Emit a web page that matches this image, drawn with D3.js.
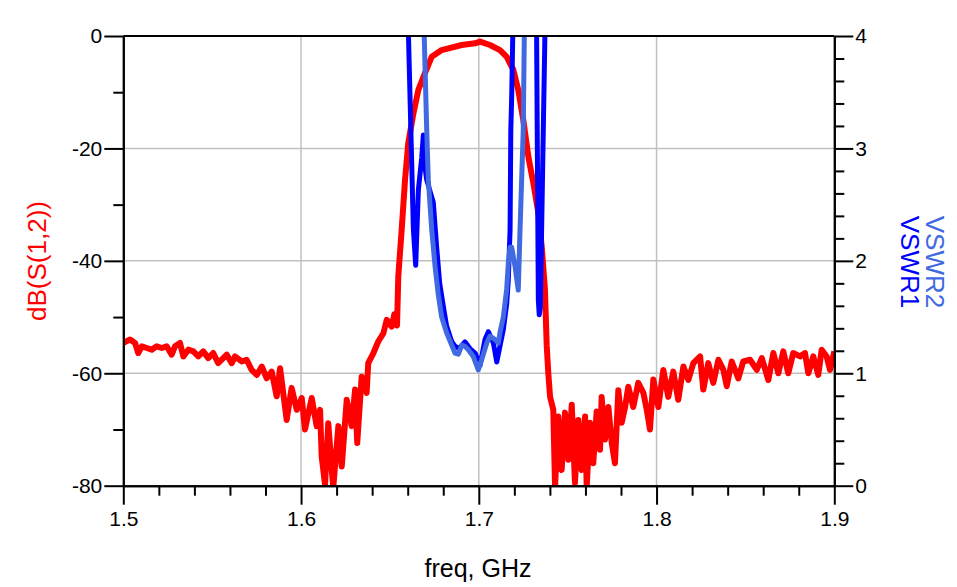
<!DOCTYPE html>
<html>
<head>
<meta charset="utf-8">
<script src="https://cdn.jsdelivr.net/npm/d3@7"></script>
<style>
    body { margin: 0; background: #fff; }
    svg { display: block; font-family: "Liberation Sans", Arial, sans-serif; }
    .axis path, .axis line { stroke: #000; stroke-width: 2; }
    .axis text { font-size: 21px; fill: #000; }
    .grid line { stroke: #c0c0c0; stroke-width: 1.5; }
</style>
</head>
<body>
<svg width="957" height="587"></svg>
<script>
// S(1,2) in dB
const s12Freq = [
    1.5000, 1.5038, 1.5066, 1.5084, 1.5104, 1.5132, 1.5160, 1.5188, 1.5216, 1.5244,
    1.5272, 1.5291, 1.5319, 1.5338, 1.5366, 1.5394, 1.5422, 1.5450, 1.5478, 1.5506,
    1.5534, 1.5582, 1.5610, 1.5628, 1.5666, 1.5694, 1.5722, 1.5751, 1.5779, 1.5807,
    1.5835, 1.5863, 1.5882, 1.5919, 1.5947, 1.5976,
    1.6004, 1.6022, 1.6060, 1.6088, 1.6107, 1.6116, 1.6135, 1.6153, 1.6181, 1.6210,
    1.6229, 1.6257, 1.6285, 1.6304, 1.6316, 1.6341, 1.6369, 1.6378, 1.6407, 1.6435,
    1.6463, 1.6482, 1.6510, 1.6525, 1.6540, 1.6547, 1.6566, 1.6585, 1.6603, 1.6632,
    1.6660, 1.6697, 1.6735, 1.6791, 1.6904, 1.6979, 1.7007, 1.7063, 1.7119, 1.7157,
    1.7194, 1.7222, 1.7250, 1.7279, 1.7307, 1.7335, 1.7354, 1.7372, 1.7382, 1.7391,
    1.7401, 1.7419, 1.7429, 1.7447, 1.7466, 1.7485, 1.7504, 1.7523, 1.7541, 1.7560,
    1.7579, 1.7598, 1.7607, 1.7626, 1.7644, 1.7663, 1.7682, 1.7691, 1.7710, 1.7729,
    1.7748, 1.7766, 1.7785, 1.7804, 1.7823, 1.7841, 1.7869, 1.7897, 1.7926, 1.7945,
    1.7963, 1.7982, 1.8010, 1.8038, 1.8066, 1.8094, 1.8122, 1.8151, 1.8179, 1.8207,
    1.8245, 1.8263, 1.8291, 1.8319, 1.8348, 1.8376, 1.8395, 1.8423, 1.8460, 1.8488,
    1.8526, 1.8564, 1.8592, 1.8629, 1.8657, 1.8685, 1.8713, 1.8741, 1.8769, 1.8807,
    1.8835, 1.8854, 1.8882, 1.8910, 1.8929, 1.8957, 1.8976, 1.9000
];
const s12dB = [
    -54.6, -54.0, -54.6, -56.4, -55.2, -55.5, -55.8, -55.2, -55.5, -55.2,
    -56.7, -55.2, -54.6, -57.0, -55.8, -56.1, -57.0, -56.1, -57.3, -56.4,
    -58.2, -56.7, -58.2, -57.0, -57.9, -57.6, -59.4, -60.3, -58.8, -60.9,
    -59.7, -64.1, -59.1, -68.3, -62.6, -66.5,
    -64.4, -70.0, -64.4, -69.4, -66.5, -74.8, -79.8, -68.9, -80.4, -69.4,
    -76.6, -64.7, -69.4, -62.9, -72.4, -60.6, -63.5, -58.2, -56.4, -54.3,
    -52.9, -50.5, -51.7, -49.5, -51.5, -42.8, -34.5, -25.6, -19.1, -13.8,
    -9.6, -6.6, -3.7, -2.5, -1.6, -1.3, -1.0, -1.6, -2.5, -3.7,
    -6.0, -9.6, -14.9, -21.5, -26.2, -31.5, -37.5, -45.0, -55.0, -60.0,
    -64.2, -66.5, -80.2, -67.7, -77.2, -67.0, -75.4, -65.6, -79.5, -68.3,
    -77.2, -67.7, -80.2, -68.8, -76.0, -66.8, -73.6, -64.2, -71.8, -66.0,
    -72.4, -76.0, -63.0, -68.8, -66.0, -62.4, -66.0, -61.7, -63.5, -66.5,
    -70.0, -61.1, -66.0, -59.4, -64.2, -59.7, -64.7, -58.8, -61.2, -58.2,
    -57.0, -62.9, -58.2, -61.7, -57.6, -59.4, -62.3, -57.9, -60.9, -57.9,
    -57.6, -59.4, -57.3, -61.2, -56.4, -60.0, -56.1, -60.0, -56.4, -57.0,
    -56.4, -60.0, -57.0, -60.3, -55.8, -57.0, -59.4, -56.1
];

// VSWR1 (port 1)
const vswr1Freq = [
    1.6598, 1.6632, 1.6645, 1.6660, 1.6679, 1.6688, 1.6700, 1.6707, 1.6744, 1.6763,
    1.6780, 1.6800, 1.6819, 1.6848, 1.6866, 1.6890, 1.6922, 1.6950, 1.6979, 1.7007,
    1.7035, 1.7054, 1.7082, 1.7101, 1.7119, 1.7138, 1.7157, 1.7166, 1.7176, 1.7180,
    1.7185, 1.7191, 1.7196, 1.7320, 1.7324, 1.7335, 1.7340, 1.7346, 1.7375, 1.7380
];
const vswr1Val = [
    4.4, 2.28, 1.96, 2.63, 2.92, 3.12, 2.80, 2.72, 2.52, 2.12,
    1.80, 1.60, 1.42, 1.28, 1.24, 1.22, 1.28, 1.22, 1.18, 1.07,
    1.30, 1.37, 1.27, 1.10, 1.24, 1.39, 1.62, 1.83, 2.28, 3.16,
    3.46, 4.0, 4.6, 4.6, 4.3, 1.65, 1.52, 1.58, 4.3, 4.6
];

// VSWR2 (port 2)
const vswr2Freq = [
    1.6690, 1.6693, 1.6707, 1.6716, 1.6735, 1.6754, 1.6772, 1.6791, 1.6819, 1.6848,
    1.6866, 1.6885, 1.6904, 1.6922, 1.6941, 1.6969, 1.6997, 1.7016, 1.7045, 1.7063,
    1.7091, 1.7110, 1.7119, 1.7138, 1.7157, 1.7166, 1.7176, 1.7185, 1.7204, 1.7222,
    1.7232, 1.7250, 1.7256, 1.7260
];
const vswr2Val = [
    4.4, 4.0, 3.16, 2.72, 2.28, 1.95, 1.70, 1.50, 1.36, 1.25,
    1.18, 1.17, 1.25, 1.24, 1.21, 1.15, 1.03, 1.12, 1.27, 1.33,
    1.30, 1.27, 1.36, 1.50, 1.75, 1.98, 2.12, 2.12, 1.95, 1.74,
    2.28, 3.16, 4.0, 4.4
];

const xTicks = [1.5, 1.6, 1.7, 1.8, 1.9];
const xMinor = [1.52, 1.54, 1.56, 1.58, 1.62, 1.64, 1.66, 1.68, 1.72, 1.74, 1.76, 1.78, 1.82, 1.84, 1.86, 1.88];
const dbTicks = [0, -20, -40, -60, -80];
const dbMinor = [-10, -30, -50, -70];
const vswrTicks = [0, 1, 2, 3, 4];
const vswrMinor = [0.2, 0.4, 0.6, 0.8, 1.2, 1.4, 1.6, 1.8, 2.2, 2.4, 2.6, 2.8, 3.2, 3.4, 3.6, 3.8];

let svg = d3.select("svg");

let plotLeft = 123.3, plotRight = 834.3, plotTop = 36, plotBottom = 485.7;

let x = d3.scaleLinear().domain([1.5, 1.9]).range([plotLeft, plotRight]);
let yDb = d3.scaleLinear().domain([-80, 0]).range([plotBottom, plotTop]);
let yVswr = d3.scaleLinear().domain([0, 4]).range([plotBottom, plotTop]);

// grid
let grid = svg.append("g").attr("class", "grid");
grid.selectAll(".gx")
    .data(xTicks.slice(1, -1))
    .enter()
    .append("line")
    .attr("x1", d => x(d)).attr("x2", d => x(d))
    .attr("y1", plotTop).attr("y2", plotBottom);
grid.selectAll(".gy")
    .data(dbTicks.slice(1, -1))
    .enter()
    .append("line")
    .attr("x1", plotLeft).attr("x2", plotRight)
    .attr("y1", d => yDb(d)).attr("y2", d => yDb(d));

// curves, clipped to the plot box
svg.append("clipPath").attr("id", "plotClip")
    .append("rect")
    .attr("x", plotLeft).attr("y", plotTop)
    .attr("width", plotRight - plotLeft).attr("height", plotBottom - plotTop);

let plot = svg.append("g").attr("clip-path", "url(#plotClip)");

let dbLine = d3.line().x(d => x(d[0])).y(d => yDb(d[1]));
let vswrLine = d3.line().x(d => x(d[0])).y(d => yVswr(d[1]));

plot.append("path")
    .datum(d3.zip(s12Freq, s12dB))
    .attr("d", dbLine)
    .attr("fill", "none")
    .attr("stroke", "#ff0000")
    .attr("stroke-width", 6)
    .attr("stroke-linejoin", "round");

plot.append("path")
    .datum(d3.zip(vswr1Freq, vswr1Val))
    .attr("d", vswrLine)
    .attr("fill", "none")
    .attr("stroke", "#0000ff")
    .attr("stroke-width", 5)
    .attr("stroke-linejoin", "round");

plot.append("path")
    .datum(d3.zip(vswr2Freq, vswr2Val))
    .attr("d", vswrLine)
    .attr("fill", "none")
    .attr("stroke", "#4169e1")
    .attr("stroke-width", 5)
    .attr("stroke-linejoin", "round");

// frame top
svg.append("line")
    .attr("x1", plotLeft).attr("x2", plotRight)
    .attr("y1", plotTop).attr("y2", plotTop)
    .attr("stroke", "#000").attr("stroke-width", 2);

// axes (plain hyphen for negatives, like the original)
let plain = d => String(d);

svg.append("g").attr("class", "axis")
    .attr("transform", `translate(0,${plotBottom})`)
    .call(d3.axisBottom(x).tickValues(xMinor).tickSize(10).tickFormat("").tickSizeOuter(0));
svg.append("g").attr("class", "axis")
    .attr("transform", `translate(0,${plotBottom})`)
    .call(d3.axisBottom(x).tickValues(xTicks).tickSize(19).tickPadding(6).tickSizeOuter(0).tickFormat(d3.format(".1f")));

svg.append("g").attr("class", "axis")
    .attr("transform", `translate(${plotLeft},0)`)
    .call(d3.axisLeft(yDb).tickValues(dbMinor).tickSize(10).tickFormat("").tickSizeOuter(0));
svg.append("g").attr("class", "axis")
    .attr("transform", `translate(${plotLeft},0)`)
    .call(d3.axisLeft(yDb).tickValues(dbTicks).tickSize(19).tickPadding(2).tickSizeOuter(0).tickFormat(plain));

svg.append("g").attr("class", "axis")
    .attr("transform", `translate(${plotRight},0)`)
    .call(d3.axisRight(yVswr).tickValues(vswrMinor).tickSize(10).tickFormat("").tickSizeOuter(0));
svg.append("g").attr("class", "axis")
    .attr("transform", `translate(${plotRight},0)`)
    .call(d3.axisRight(yVswr).tickValues(vswrTicks).tickSize(19).tickPadding(2).tickSizeOuter(0).tickFormat(plain));

svg.selectAll(".axis text").style("font-family", "'Liberation Sans', Arial, sans-serif");

// titles
svg.append("text")
    .attr("x", 478).attr("y", 577)
    .attr("text-anchor", "middle")
    .attr("font-size", 25)
    .text("freq, GHz");

svg.append("text")
    .attr("transform", "translate(37,261) rotate(-90)")
    .attr("text-anchor", "middle")
    .attr("dominant-baseline", "central")
    .attr("font-size", 26)
    .attr("fill", "#ff0000")
    .text("dB(S(1,2))");

svg.append("text")
    .attr("transform", "translate(935,262) rotate(90)")
    .attr("text-anchor", "middle")
    .attr("dominant-baseline", "central")
    .attr("font-size", 26)
    .attr("fill", "#4169e1")
    .text("VSWR2");

svg.append("text")
    .attr("transform", "translate(910,262) rotate(90)")
    .attr("text-anchor", "middle")
    .attr("dominant-baseline", "central")
    .attr("font-size", 26)
    .attr("fill", "#0000ff")
    .text("VSWR1");
</script>
</body>
</html>
